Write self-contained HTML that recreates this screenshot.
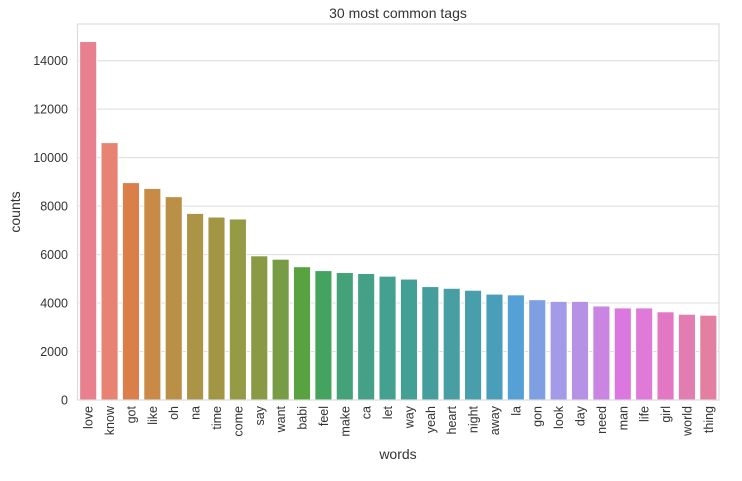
<!DOCTYPE html>
<html><head><meta charset="utf-8"><style>
body{margin:0;background:#fff;font-family:"Liberation Sans","DejaVu Sans",sans-serif;}
svg text{fill:#333;}
</style></head><body>
<svg id="chart" width="742" height="476" viewBox="0 0 742 476" xmlns="http://www.w3.org/2000/svg">
<text x="398" y="18" text-anchor="middle" font-size="14">30 most common tags</text>
<g id="grid"></g>
<g id="bars"></g>
<g id="yticks"></g>
<g id="xticks"></g>
<rect x="77.5" y="24" width="641.5" height="376" fill="none" stroke="#dcdcdc" stroke-width="1.2"/>
<text transform="translate(20,212) rotate(-90)" text-anchor="middle" font-size="14">counts</text>
<text x="398" y="459" text-anchor="middle" font-size="14">words</text>
</svg>
<script>
const categories=["love","know","got","like","oh","na","time","come","say","want","babi","feel","make","ca","let","way","yeah","heart","night","away","la","gon","look","day","need","man","life","girl","world","thing"];
const counts=[14790,10620,8970,8730,8390,7700,7550,7470,5950,5810,5500,5340,5260,5220,5110,4990,4680,4610,4530,4370,4340,4140,4070,4070,3880,3800,3800,3640,3540,3500];
const yTicks=[0,2000,4000,6000,8000,10000,12000,14000];
const colors=["#e8808f","#e88374","#da7f4a","#c88a46","#b99046","#ab9446","#a29543","#959a44","#8a9a44","#779c45","#58a33f","#44a35f","#44a27a","#44a188","#44a08f","#449f95","#459e9c","#479ea3","#489eab","#499eb9","#55a0d5","#7ea0e3","#a39be8","#b592e6","#ca85e3","#db78e0","#e07ad8","#e278c4","#e27cb1","#e37fa0"];
const NS="http://www.w3.org/2000/svg";
const L=77.5,R=719,T=24,B=400;
const y=v=>B-(v/14000)*(B-60.7);
const band=(R-L)/categories.length;
const x=i=>L+band*i;
const grid=document.getElementById('grid'),bars=document.getElementById('bars'),yt=document.getElementById('yticks'),xt=document.getElementById('xticks');
yTicks.forEach(t=>{
  const ln=document.createElementNS(NS,'line');
  
  
  ln.setAttribute('x1',L);ln.setAttribute('x2',R);ln.setAttribute('y1',y(t));ln.setAttribute('y2',y(t));
  ln.setAttribute('stroke','#dcdcdc');ln.setAttribute('stroke-width','1');
  grid.appendChild(ln);
  const tx=document.createElementNS(NS,'text');
  
  
  tx.setAttribute('x',68);tx.setAttribute('y',y(t)+4.5);tx.setAttribute('text-anchor','end');tx.setAttribute('font-size','12.5');
  tx.textContent=t;yt.appendChild(tx);
});
categories.forEach((c,i)=>{
  const w=band*0.8;
  const r=document.createElementNS(NS,'rect');
  
  
  r.setAttribute('x',x(i)+band*0.1);r.setAttribute('width',w);
  r.setAttribute('y',y(counts[i]));r.setAttribute('height',B-y(counts[i]));
  r.setAttribute('fill',colors[i]);r.setAttribute('stroke','#fff');r.setAttribute('stroke-width','1');
  bars.appendChild(r);
  const tx=document.createElementNS(NS,'text');
  
  
  const cx=x(i)+band/2+4.5;
  tx.setAttribute('transform','translate('+cx+',406) rotate(-90)');
  tx.setAttribute('text-anchor','end');tx.setAttribute('font-size','12.5');
  tx.textContent=c;xt.appendChild(tx);
});
</script>
</body></html>
